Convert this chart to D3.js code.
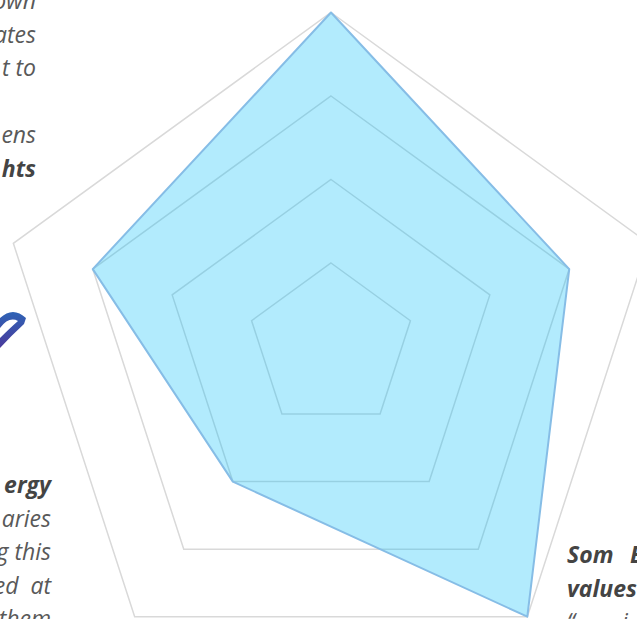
<!DOCTYPE html>
<html>
<head>
<meta charset="utf-8">
<script src="https://cdn.jsdelivr.net/npm/d3@7"></script>
<style>
  html, body { margin: 0; padding: 0; background: #ffffff; overflow: hidden; }
  svg { display: block; }
  text { font-family: "Open Sans", "Noto Sans", sans-serif; font-style: italic; font-size: 23px; white-space: pre; }
</style>
</head>
<body>
<svg id="chart" width="637" height="619"></svg>
<script>
// ---- data ----
const categories = ["Axis 1", "Axis 2", "Axis 3", "Axis 4", "Axis 5"];
const values = [4, 3, 4, 2, 3];
const gridLevels = [1, 2, 3, 4];
const maxValue = 4;

// text fragments visible at the edges of the picture
const leftTopLines = [
  { t: "own", bold: false },
  { t: "ates", bold: false },
  { t: "t to", bold: false },
  { t: "", bold: false },
  { t: "ens", bold: false },
  { t: "hts", bold: true }
];
const leftBottomLines = [
  { t: "ergy", bold: true },
  { t: "aries", bold: false },
  { t: "g this", bold: false },
  { t: "ed  at", bold: false },
  { t: "them", bold: false }
];
const rightBottomLines = [
  { words: ["Som", "E"], bold: true },
  { words: ["values"], bold: true },
  { words: ["“", "i"], bold: false }
];

const svg = d3.select("#chart");
const W = 637, H = 619;
const cx = 331, cy = 346.5, R = 334;

const r = d3.scaleLinear().domain([0, maxValue]).range([0, R]);
const angle = d3.scaleLinear().domain([0, categories.length]).range([0, 2 * Math.PI]);

const radial = d3.lineRadial()
  .angle((d, i) => angle(i))
  .radius(d => r(d))
  .curve(d3.curveLinearClosed);

const g = svg.append("g").attr("transform", `translate(${cx},${cy})`);

// grid pentagons
g.selectAll("path.grid")
  .data(gridLevels)
  .join("path")
  .attr("class", "grid")
  .attr("d", lvl => radial(categories.map(() => lvl)))
  .attr("fill", "none")
  .attr("stroke", "#d9d9d9")
  .attr("stroke-width", 1.5);

// data area
g.append("path")
  .attr("d", radial(values))
  .attr("fill", "rgb(0,188,248)")
  .attr("fill-opacity", 0.3)
  .attr("stroke", "#86bde6")
  .attr("stroke-width", 2)
  .attr("stroke-linejoin", "round");

// text blocks
const lh = 33.6;
function block(lines, x, y0, anchor) {
  svg.append("g").selectAll("text")
    .data(lines)
    .join("text")
    .attr("x", x)
    .attr("y", (d, i) => y0 + i * lh)
    .attr("text-anchor", anchor)
    .attr("font-weight", d => d.bold ? 700 : 400)
    .attr("fill", d => d.bold ? "#444444" : "#595959")
    .text(d => d.t);
}
block(leftTopLines, 36, 9, "end");
block(leftBottomLines, 51, 493, "end");

// right block: justified lines (wide word gaps)
const rightX = 567, rightY0 = 563;
const justifyGap = [63, 0, 55];
const rb = svg.append("g");
rightBottomLines.forEach((line, i) => {
  const txt = rb.append("text")
    .attr("x", rightX)
    .attr("y", rightY0 + i * lh)
    .attr("font-weight", line.bold ? 700 : 400)
    .attr("fill", line.bold ? "#444444" : "#595959");
  line.words.forEach((w, j) => {
    txt.append("tspan")
      .attr("x", rightX + (j > 0 ? justifyGap[i] : 0))
      .text(w);
  });
});

// logo fragment (blue hook) at left edge
const defs = svg.append("defs");
const grad = defs.append("linearGradient").attr("id", "logoGrad")
  .attr("x1", "0").attr("y1", "0").attr("x2", "0").attr("y2", "1");
grad.append("stop").attr("offset", "0%").attr("stop-color", "#2f63b5");
grad.append("stop").attr("offset", "100%").attr("stop-color", "#4a3a9c");
svg.append("path")
  .attr("d", "M0,318 Q13,306 26,318 L24,324 Q12,335 0,348 L0,338 Q10,328 18,321 Q9,316 0,328 Z")
  .attr("fill", "url(#logoGrad)");
</script>
</body>
</html>
